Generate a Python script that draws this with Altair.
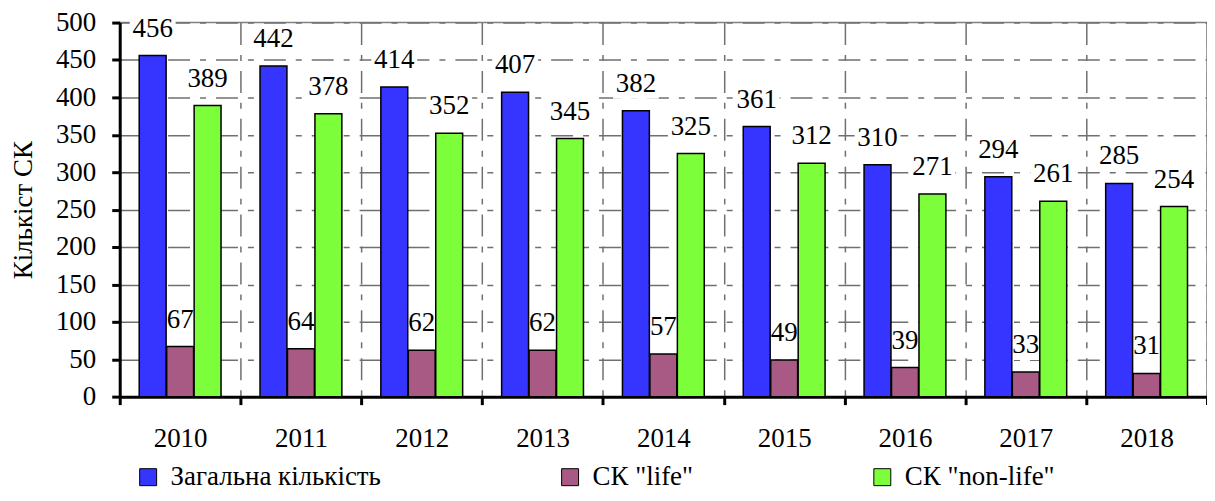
import altair as alt
import pandas as pd

years = ["2010", "2011", "2012", "2013", "2014", "2015", "2016", "2017", "2018"]
series = ["Загальна кількість", 'СК "life"', 'СК "non-life"']
total = [456, 442, 414, 407, 382, 361, 310, 294, 285]
life = [67, 64, 62, 62, 57, 49, 39, 33, 31]
nonlife = [389, 378, 352, 345, 325, 312, 271, 261, 254]
colors = ["#3535ff", "#a85a84", "#7cff3a"]
y_ticks = [0, 50, 100, 150, 200, 250, 300, 350, 400, 450, 500]

rows = []
for i, y in enumerate(years):
    for s, vals in zip(series, [total, life, nonlife]):
        rows.append({"year": y, "series": s, "value": vals[i]})
df = pd.DataFrame(rows)

FONT = "Liberation Serif"
FS = 27
dash = [22, 10, 6, 10]

x_enc = alt.X(
    "year:N",
    sort=years,
    scale=alt.Scale(paddingInner=0, paddingOuter=0),
    axis=alt.Axis(
        title=None,
        labelAngle=0,
        labelFont=FONT,
        labelFontSize=FS,
        labelColor="black",
        labelPadding=21,
        tickBand="extent",
        tickSize=8,
        tickWidth=3,
        tickColor="black",
        domainColor="black",
        domainWidth=3,
        grid=True,
        gridColor="#707070",
        gridWidth=1.5,
        gridDash=dash,
    ),
)
xo_enc = alt.XOffset(
    "series:N", sort=series, scale=alt.Scale(paddingOuter=0.71, paddingInner=0.02)
)
y_enc = alt.Y(
    "value:Q",
    scale=alt.Scale(domain=[0, 500], nice=False),
    axis=alt.Axis(
        title="Кількіст СК",
        titleFont=FONT,
        titleFontSize=FS,
        titleFontWeight="normal",
        titleColor="black",
        titlePadding=18,
        values=y_ticks,
        labelFont=FONT,
        labelFontSize=FS,
        labelColor="black",
        labelPadding=16,
        tickSize=8,
        tickWidth=3,
        tickColor="black",
        domainColor="black",
        domainWidth=3,
        grid=True,
        gridColor="#707070",
        gridWidth=1.5,
        gridDash=dash,
    ),
)

base = alt.Chart(df).encode(x=x_enc, xOffset=xo_enc, y=y_enc)

box_path = "M-1,-0.652L1,-0.652L1,0.652L-1,0.652Z"
boxes = base.mark_point(
    shape=box_path, filled=True, fill="white", opacity=1, size=46 * 46,
    strokeWidth=0, yOffset=-27,
)

bars = base.mark_bar(stroke="black", strokeWidth=1.5).encode(
    color=alt.Color(
        "series:N",
        sort=series,
        scale=alt.Scale(domain=series, range=colors),
        legend=alt.Legend(
            title=None,
            orient="none",
            direction="horizontal",
            legendX=15,
            legendY=442,
            symbolType="square",
            symbolSize=289,
            symbolStrokeColor="black",
            symbolStrokeWidth=1,
            symbolOpacity=1,
            labelFont=FONT,
            labelFontSize=FS,
            labelColor="black",
            labelOffset=9,
            labelLimit=500,
            columnPadding=176,
        ),
    )
)

labels = base.mark_text(
    baseline="alphabetic", align="center", dy=-19, font=FONT, fontSize=FS, color="black"
).encode(text="value:Q")

chart = (
    alt.layer(boxes, bars, labels)
    .properties(
        width=1090,
        height=375,
        padding={"left": 112, "top": 14, "right": 0, "bottom": 95},
        autosize=alt.AutoSizeParams(type="none"),
    )
    .configure(font=FONT)
    .configure_view(stroke="#808080", strokeWidth=1.5)
)

chart.save("out.html", embed_options={"renderer": "svg", "actions": False})
